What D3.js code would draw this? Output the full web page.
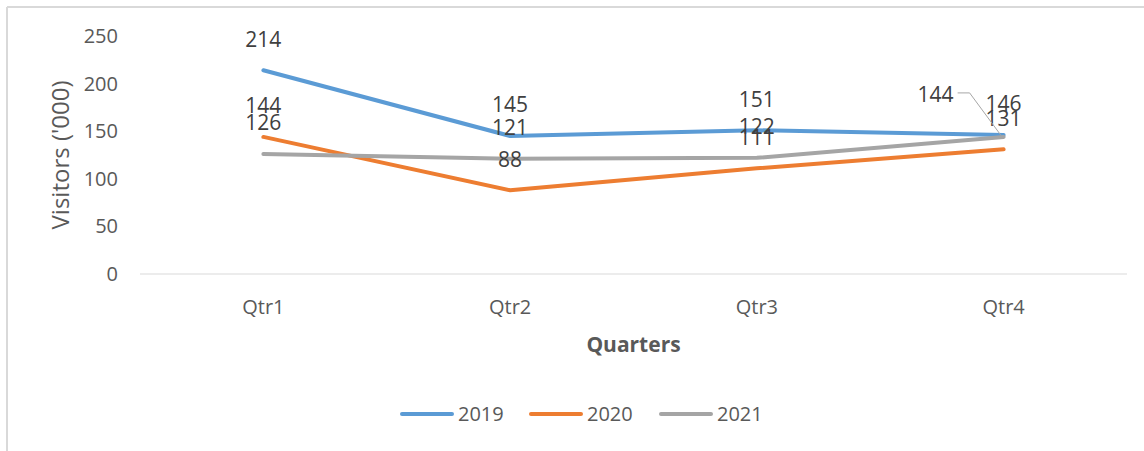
<!DOCTYPE html>
<html>
<head>
<meta charset="utf-8">
<script src="https://cdn.jsdelivr.net/npm/d3@7"></script>
<style>
  body { margin: 0; background: #fff; }
  text { font-family: "Open Sans", "Noto Sans", sans-serif; }
</style>
</head>
<body>
<div id="chart"></div>
<script>
var quarters = ["Qtr1", "Qtr2", "Qtr3", "Qtr4"];
var years = ["2019", "2020", "2021"];
var visitors2019 = [214, 145, 151, 146];
var visitors2020 = [144, 88, 111, 131];
var visitors2021 = [126, 121, 122, 144];
var yTicks = [0, 50, 100, 150, 200, 250];
var colors = ["#5b9bd5", "#ed7d31", "#a5a5a5"];

var seriesData = [visitors2019, visitors2020, visitors2021];

var svgWidth = 1144;
var svgHeight = 451;

var svg = d3.select("#chart")
  .append("svg")
  .attr("width", svgWidth)
  .attr("height", svgHeight);

// chart frame (only top and left edges show)
svg.append("line")
  .attr("x1", 7).attr("y1", 7).attr("x2", svgWidth).attr("y2", 7)
  .attr("stroke", "#d9d9d9").attr("stroke-width", 2);
svg.append("line")
  .attr("x1", 7).attr("y1", 7).attr("x2", 7).attr("y2", svgHeight)
  .attr("stroke", "#d9d9d9").attr("stroke-width", 2);

var plot = { left: 140, right: 1127, top: 36, bottom: 274 };

var xScale = d3.scaleBand()
  .domain(quarters)
  .range([plot.left, plot.right]);

var yScale = d3.scaleLinear()
  .domain([0, 250])
  .range([plot.bottom, plot.top]);

// baseline
svg.append("line")
  .attr("x1", plot.left).attr("x2", plot.right)
  .attr("y1", yScale(0)).attr("y2", yScale(0))
  .attr("stroke", "#d9d9d9").attr("stroke-width", 1);

// y tick labels
svg.append("g").selectAll("text")
  .data(yTicks)
  .enter()
  .append("text")
  .attr("x", 118)
  .attr("y", d => yScale(d))
  .attr("dy", "0.35em")
  .attr("text-anchor", "end")
  .attr("font-size", "20px")
  .attr("fill", "#595959")
  .text(d => d);

// x tick labels
svg.append("g").selectAll("text")
  .data(quarters)
  .enter()
  .append("text")
  .attr("x", d => xScale(d) + xScale.bandwidth() / 2)
  .attr("y", 307)
  .attr("dy", "0.35em")
  .attr("text-anchor", "middle")
  .attr("font-size", "20px")
  .attr("fill", "#595959")
  .text(d => d);

// axis titles
svg.append("text")
  .attr("transform", "rotate(-90)")
  .attr("x", -155)
  .attr("y", 61)
  .attr("dy", "0.35em")
  .attr("text-anchor", "middle")
  .attr("font-size", "24px")
  .attr("fill", "#595959")
  .text("Visitors ('000)");

svg.append("text")
  .attr("x", (plot.left + plot.right) / 2)
  .attr("y", 345)
  .attr("dy", "0.35em")
  .attr("text-anchor", "middle")
  .attr("font-size", "21px")
  .attr("font-weight", "bold")
  .attr("fill", "#595959")
  .text("Quarters");

var line = d3.line()
  .x((d, i) => xScale(quarters[i]) + xScale.bandwidth() / 2)
  .y(d => yScale(d));

seriesData.forEach(function(values, s) {
  svg.append("path")
    .datum(values)
    .attr("fill", "none")
    .attr("stroke", colors[s])
    .attr("stroke-width", 4)
    .attr("stroke-linejoin", "round")
    .attr("stroke-linecap", "round")
    .attr("d", line);
});

// data labels, sit ~31px above each point
seriesData.forEach(function(values, s) {
  values.forEach(function(v, i) {
    var px = xScale(quarters[i]) + xScale.bandwidth() / 2;
    var py = yScale(v);
    var lx = px, ly = py - 31;
    // last 2021 label was dragged aside in the original, with a leader line
    if (s === 2 && i === 3) {
      lx = px - 68;
      ly = py - 42;
      svg.append("polyline")
        .attr("points", [[lx + 22, ly - 2], [lx + 34, ly - 2], [px - 3, py - 2]].join(" "))
        .attr("fill", "none")
        .attr("stroke", "#a6a6a6")
        .attr("stroke-width", 1);
    }
    svg.append("text")
      .attr("x", lx)
      .attr("y", ly)
      .attr("dy", "0.35em")
      .attr("text-anchor", "middle")
      .attr("font-size", "21px")
      .attr("fill", "#404040")
      .text(v);
  });
});

// legend
var legendX = [402, 531, 661];
var legend = svg.append("g");
years.forEach(function(y, i) {
  legend.append("line")
    .attr("x1", legendX[i]).attr("x2", legendX[i] + 50)
    .attr("y1", 414).attr("y2", 414)
    .attr("stroke", colors[i])
    .attr("stroke-width", 4)
    .attr("stroke-linecap", "round");
  legend.append("text")
    .attr("x", legendX[i] + 56)
    .attr("y", 414)
    .attr("dy", "0.35em")
    .attr("font-size", "20px")
    .attr("fill", "#595959")
    .text(y);
});
</script>
</body>
</html>
